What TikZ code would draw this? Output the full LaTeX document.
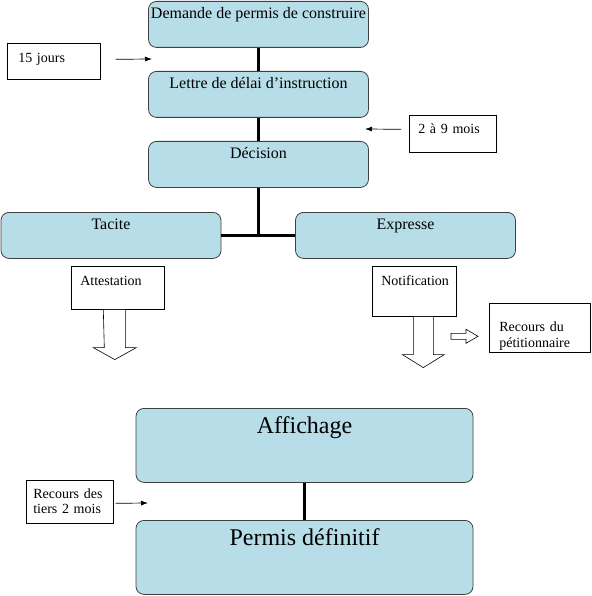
\documentclass[tikz,border=0pt]{standalone}
\usepackage{fontspec}
\setmainfont{Liberation Serif}
\usetikzlibrary{arrows.meta}
\definecolor{boxblue}{RGB}{183, 222, 232}
\definecolor{boxline}{RGB}{64, 64, 64}

\begin{document}
\begin{tikzpicture}[x=1pt,y=-1pt,
    stage/.style={draw=boxline,line width=0.8pt,fill=boxblue,rounded corners=8pt,anchor=north,
        inner sep=0pt,minimum width=220pt,text height=17pt,text depth=29pt,font=\fontsize{16}{19}\selectfont},
    bigstage/.style={stage,minimum width=337pt,text height=25pt,text depth=49pt,font=\fontsize{24}{28}\selectfont},
    note/.style={draw,line width=0.6pt,anchor=north west,align=left,inner ysep=0pt,font=\fontsize{14}{16}\selectfont},
    hollow/.style={draw,line width=0.6pt,fill=white},
    link/.style={line width=2.5pt},
    pointer/.style={-{Latex[length=7pt,width=5pt]},line width=0.7pt}]
\useasboundingbox (0,0) rectangle (591,596);

% Main steps
\node[stage] (demande) at (258.5,1) {Demande de permis de construire};
\node[stage] (lettre) at (258.5,71) {Lettre de délai d’instruction};
\node[stage] (decision) at (258.5,141) {Décision};

% Kinds of decision
\node[stage] (tacite) at (111,212) {Tacite};
\node[stage] (expresse) at (405.5,212) {Expresse};

% Final steps
\node[bigstage] (affichage) at (304.5,408) {Affichage};
\node[bigstage] (permis) at (304.5,520) {Permis définitif};

% Notes
\node[note,inner xsep=11pt,text width=71pt,text height=19pt,text depth=17pt] (jours) at (7,43) {15 jours};
\node[note,inner xsep=9pt,text width=69pt,text height=18pt,text depth=19pt] (delai) at (409,115) {2 à 9 mois};
\node[note,inner xsep=9pt,text width=75pt,text height=19pt,text depth=24pt] (attestation) at (71,266) {Attestation};
\node[note,inner xsep=9pt,text width=66pt,text height=19pt,text depth=31pt] (notification) at (372,266) {Notification};
\node[note,inner xsep=10pt,text width=81pt,text height=28pt,text depth=21pt] (petitionnaire) at (489,303) {Recours du\\pétitionnaire};
\node[note,inner xsep=7pt,text width=73pt,text height=18pt,text depth=25pt,font=\fontsize{14}{15}\selectfont] (tiers) at (26,480) {Recours des\\tiers 2 mois};

% Hollow arrows
\draw[hollow] ([xshift=-14.5pt]attestation.south) -- ++(22,0) -- ++(0,38) -- ++(11,0) -- ++(-21.5,12) -- ++(-21.5,-12) -- ++(11,0) -- cycle;
\draw[hollow] ([xshift=-1pt]notification.south) -- ++(20,0) -- ++(0,38) -- ++(11,0) -- ++(-21,13) -- ++(-21,-13) -- ++(11,0) -- cycle;
\draw[hollow] ([xshift=-38pt,yshift=-5.5pt]petitionnaire.west) -- ++(15,0) -- ++(0,-4) -- ++(12,7) -- ++(-12,7) -- ++(0,-4) -- ++(-15,0) -- cycle;

% Connections
\draw[link] (demande) -- (lettre);
\draw[link] (lettre) -- (decision);
\draw[link] (decision.south) -- (decision.south |- tacite.east);
\draw[link] (tacite) -- (expresse);
\draw[link] (affichage) -- (permis);

% Pointers
\coordinate (jours-tip) at (152,59);
\coordinate (delai-tip) at (365,129);
\coordinate (tiers-tip) at (148,503);
\draw[pointer] ([xshift=15pt,yshift=2pt]jours.east) -- (jours-tip);
\draw[pointer] ([xshift=-8pt,yshift=4.5pt]delai.west) -- (delai-tip);
\draw[pointer] ([xshift=2pt,yshift=-1.5pt]tiers.east) -- (tiers-tip);
\end{tikzpicture}
\end{document}
